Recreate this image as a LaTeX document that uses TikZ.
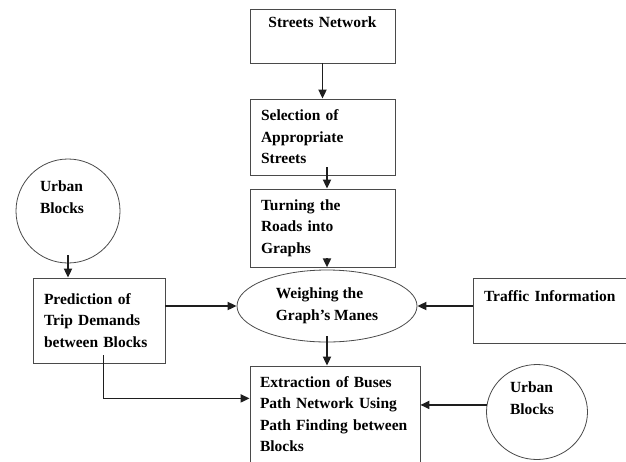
\documentclass[tikz,border=0pt]{standalone}
\usepackage{fontspec}
\setmainfont{Liberation Serif}
\usepackage{tikz}
\usetikzlibrary{arrows.meta,shapes.geometric,calc}
\definecolor{boxline}{HTML}{4A4A4A}
\definecolor{flowink}{HTML}{1E1E1E}
\tikzset{
  box/.style={draw=boxline, line width=0.8pt, align=left, inner xsep=11pt, inner ysep=0pt},
  blob/.style={draw=boxline, line width=0.8pt, inner sep=0pt, align=left},
  flow/.style={-{Triangle[length=9pt,width=8pt]}, line width=1.8pt, draw=flowink},
  link/.style={line width=0.8pt, draw=flowink}
}
\begin{document}
\begin{tikzpicture}[x=1pt,y=-1pt,font=\fontsize{15.5}{21.5}\selectfont\bfseries]
  \useasboundingbox (0,0) rectangle (626,461);

  \node[box, text width=123pt, minimum height=54pt, align=center] (net) at (322.5,36) {Streets Network\\\strut};
  \node[box, text width=123pt, minimum height=76pt] (sel) at (322.5,137) {Selection of\\Appropriate\\Streets};
  \node[box, text width=123pt, minimum height=78pt] (turn) at (322.5,228) {Turning the\\Roads into\\Graphs};
  \node[blob, ellipse, minimum width=180pt, minimum height=72pt] (weigh) at (327,306) {Weighing the\\Graph's Manes};
  \node[box, text width=144pt, minimum height=65pt] (traffic) at (556,310.5) {Traffic Information\\\strut};
  \node[box, text width=110pt, minimum height=85pt] (pred) at (99,320.5) {Prediction of\\Trip Demands\\between Blocks};
  \node[box, inner xsep=10pt, text width=150pt, minimum height=96pt] (ext) at (335,414) {Extraction of Buses\\Path Network Using\\Path Finding between\\Blocks};
  \node[blob, circle, text width=56pt, minimum size=104pt] (ubleft) at (68,211) {Urban\\Blocks\\\strut};
  \node[blob, ellipse, text width=54pt, minimum width=101pt, minimum height=95pt] (ubright) at (537,412) {Urban\\Blocks\\\strut};

  \draw[flow] (net.south) -- (sel.north);
  \draw[flow] ($(sel.south -| weigh)+(0,-8)$) -- (turn.north -| weigh);
  \draw[flow] ($(turn.south -| weigh)+(0,-9)$) -- (turn.south -| weigh);
  \draw[flow] ($(weigh.south)+(0,-6)$) -- (weigh.south |- ext.north);
  \draw[flow] ($(ubleft.south)+(0,-8)$) -- (ubleft.south |- pred.north);
  \draw[flow] (pred.east |- weigh.west) -- (weigh.west);
  \draw[flow] (traffic.west |- weigh.east) -- (weigh.east);
  \draw[flow] (ubright.172) -- (ubright.172 -| ext.east);

  \coordinate (bend) at ($(pred.south)+(4,35)$);
  \draw[link] ($(pred.south)+(4,-8)$) -- (bend);
  \draw[flow] (bend) -- (bend -| ext.west);
\end{tikzpicture}
\end{document}
